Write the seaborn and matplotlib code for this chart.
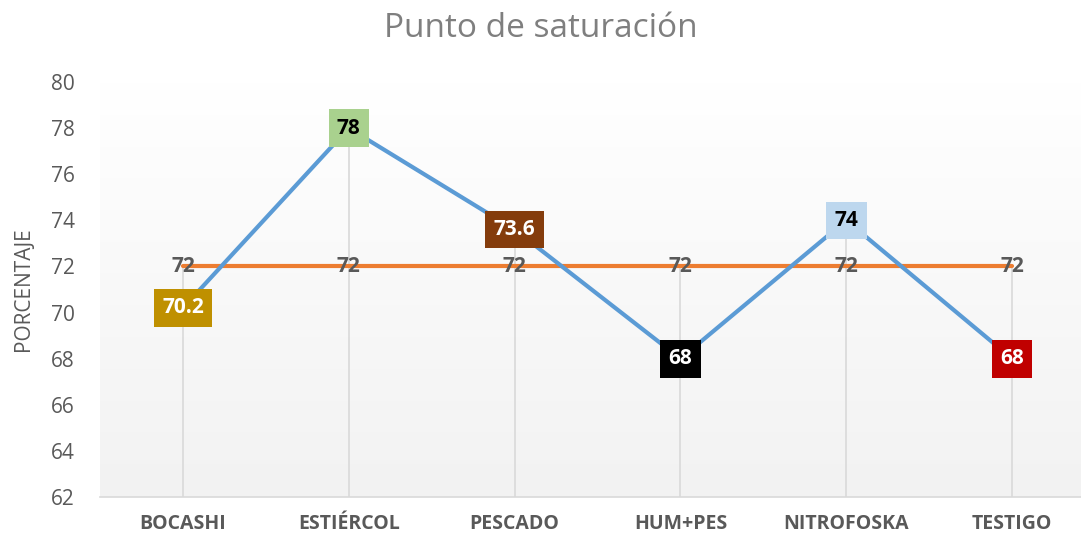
import numpy as np
import pandas as pd
import matplotlib.pyplot as plt
import seaborn as sns

# datos
categorias = ['BOCASHI', 'ESTIÉRCOL', 'PESCADO', 'HUM+PES', 'NITROFOSKA', 'TESTIGO']
saturacion = [70.2, 78, 73.6, 68, 74, 68]
referencia = [72, 72, 72, 72, 72, 72]
colores_caja = ['#BF9000', '#A9D18E', '#843C0C', '#000000', '#BDD7EE', '#C00000']
colores_texto = ['white', 'black', 'white', 'white', 'black', 'white']

df = pd.DataFrame({'cat': categorias, 'sat': saturacion, 'ref': referencia})
df['x'] = range(len(df))

sns.set_style('white')
plt.rcParams['font.family'] = ['Open Sans', 'DejaVu Sans']

fig = plt.figure(figsize=(10.81, 5.37), dpi=100)
ax = fig.add_axes([100 / 1081, 40 / 537, 995 / 1081, 415 / 537])

# fondo degradado
grad = np.linspace(1, 0, 256).reshape(-1, 1)
ax.imshow(grad, extent=[0, 1, 0, 1], transform=ax.transAxes, aspect='auto',
          cmap=plt.matplotlib.colors.LinearSegmentedColormap.from_list('g', ['#F2F2F2', '#FFFFFF']),
          zorder=0)

# lineas de caida (del maximo al eje)
ymin = 62
ax.vlines(df['x'], ymin, df[['sat', 'ref']].max(axis=1), color='#D9D9D9', lw=1.2, zorder=1)

sns.lineplot(data=df, x='x', y='sat', color='#5B9BD5', lw=3, ax=ax, zorder=3)
sns.lineplot(data=df, x='x', y='ref', color='#ED7D31', lw=3, ax=ax, zorder=2)

for i, row in df.iterrows():
    ax.text(row['x'], row['ref'], f"{row['ref']:g}", ha='center', va='center',
            fontsize=15, fontweight='bold', color='#595959', zorder=4)
    ax.text(row['x'], row['sat'], f"{row['sat']:g}", ha='center', va='center',
            fontsize=15, fontweight='bold', color=colores_texto[i], zorder=5,
            bbox=dict(boxstyle='square,pad=0.4', fc=colores_caja[i], ec='none'))

ax.set_xlim(-0.5, 5.5)
ax.set_ylim(62, 80)
ax.set_yticks(range(62, 81, 2))
ax.set_xticks(df['x'])
ax.set_xticklabels(categorias, fontsize=14, fontweight='bold', color='#595959')
ax.tick_params(axis='y', labelsize=15, labelcolor='#595959', length=0, pad=18)
ax.tick_params(axis='x', length=0, pad=12)
ax.set_xlabel('')
ax.set_ylabel('PORCENTAJE', fontsize=15, color='#595959', labelpad=12)
for s in ['top', 'right', 'left']:
    ax.spines[s].set_visible(False)
ax.spines['bottom'].set_color('#D9D9D9')
ax.spines['bottom'].set_linewidth(1.2)

fig.text(0.5, 0.947, 'Punto de saturación', ha='center', va='center',
         fontsize=24, color='#7F7F7F')

fig.savefig('out.png', dpi=100)
